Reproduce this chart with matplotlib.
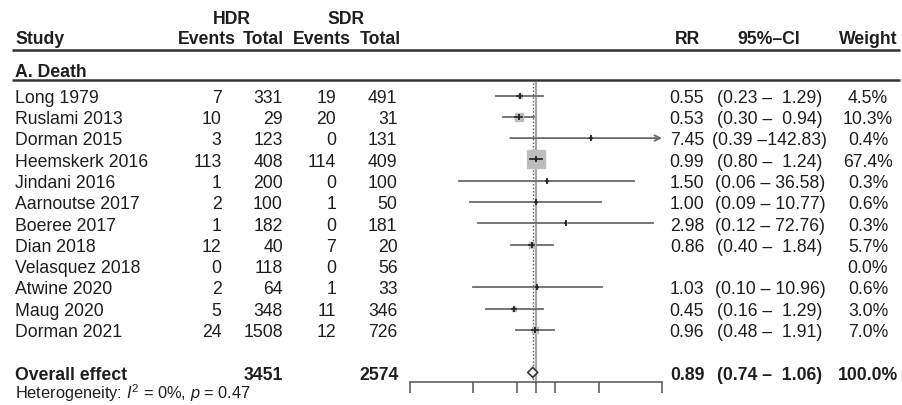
import numpy as np
import matplotlib
matplotlib.use('Agg')
import matplotlib.pyplot as plt
from matplotlib.ticker import NullLocator

plt.rcParams['font.family'] = ['Liberation Sans', 'DejaVu Sans']
plt.rcParams['mathtext.fontset'] = 'custom'
plt.rcParams['mathtext.rm'] = 'Liberation Sans'
plt.rcParams['mathtext.it'] = 'Liberation Sans:italic'

# study level data (A. Death)
studies = ['Long 1979', 'Ruslami 2013', 'Dorman 2015', 'Heemskerk 2016', 'Jindani 2016',
           'Aarnoutse 2017', 'Boeree 2017', 'Dian 2018', 'Velasquez 2018', 'Atwine 2020',
           'Maug 2020', 'Dorman 2021']
hdr_events = [7, 10, 3, 113, 1, 2, 1, 12, 0, 2, 5, 24]
hdr_total = [331, 29, 123, 408, 200, 100, 182, 40, 118, 64, 348, 1508]
sdr_events = [19, 20, 0, 114, 0, 1, 0, 7, 0, 1, 11, 12]
sdr_total = [491, 31, 131, 409, 100, 50, 181, 20, 56, 33, 346, 726]
rr = [0.55, 0.53, 7.45, 0.99, 1.50, 1.00, 2.98, 0.86, None, 1.03, 0.45, 0.96]
ci_lo = [0.23, 0.30, 0.39, 0.80, 0.06, 0.09, 0.12, 0.40, None, 0.10, 0.16, 0.48]
ci_hi = [1.29, 0.94, 142.83, 1.24, 36.58, 10.77, 72.76, 1.84, None, 10.96, 1.29, 1.91]
weight = [4.5, 10.3, 0.4, 67.4, 0.3, 0.6, 0.3, 5.7, 0.0, 0.6, 3.0, 7.0]

# pooled estimate
total_hdr = 3451
total_sdr = 2574
rr_all = 0.89
lo_all = 0.74
hi_all = 1.06
het_text = r"Heterogeneity: $I^2$ = 0%, $p$ = 0.47"

x_ticks = [0.01, 0.1, 0.5, 1, 2, 10, 100]

W, H = 902, 406
FS = 12.7
INK = '#1e1e1e'
CI_COL = '#6a6a6a'
SQ_COL = '#bdbdbd'

# layout in pixels
AX_L, AX_R = 410, 662
AXIS_Y = 383
ROW0, ROW_STEP = 96.5, 21.3
BASE_OFF = 6.3


def row_y(i):
    return ROW0 + ROW_STEP * i


fig = plt.figure(figsize=(W / 100, H / 100), dpi=100)
tx = fig.add_axes([0, 0, 1, 1])
tx.set_xlim(0, W)
tx.set_ylim(H, 0)
tx.axis('off')


def put(x, y, s, ha='left', bold=False, size=FS):
    tx.text(x, y, s, ha=ha, va='baseline', fontsize=size,
            fontweight='bold' if bold else 'normal', color=INK)


# header
put(231.5, 23.5, 'HDR', ha='center', bold=True)
put(345.5, 23.5, 'SDR', ha='center', bold=True)
put(15, 44.5, 'Study', bold=True)
put(236, 44.5, 'Events', ha='right', bold=True)
put(284, 44.5, 'Total', ha='right', bold=True)
put(351, 44.5, 'Events', ha='right', bold=True)
put(401, 44.5, 'Total', ha='right', bold=True)
put(687, 44.5, 'RR', ha='center', bold=True)
put(769, 44.5, '95%\u2013CI', ha='center', bold=True)
put(868, 44.5, 'Weight', ha='center', bold=True)

tx.plot([12, 900], [51, 51], color='#333333', lw=1.8, solid_capstyle='butt')
put(15, 77, 'A. Death', bold=True)
tx.plot([12, 900], [80.5, 80.5], color='#333333', lw=1.8, solid_capstyle='butt')


def ci_str(lo, hi):
    return '({:.2f} \u2013{:6.2f})'.format(lo, hi)


for i, name in enumerate(studies):
    yb = row_y(i) + BASE_OFF
    put(15, yb, name)
    put(221.5, yb, str(hdr_events[i]), ha='right')
    put(283, yb, str(hdr_total[i]), ha='right')
    put(336, yb, str(sdr_events[i]), ha='right')
    put(397.5, yb, str(sdr_total[i]), ha='right')
    if rr[i] is not None:
        put(687, yb, '{:.2f}'.format(rr[i]), ha='center')
        put(770, yb, ci_str(ci_lo[i], ci_hi[i]), ha='center')
    put(868, yb, '{:.1f}%'.format(weight[i]), ha='center')

y_all = row_y(len(studies) + 1)
yb = y_all + BASE_OFF
put(15, yb, 'Overall effect', bold=True)
put(283, yb, str(total_hdr), ha='right', bold=True)
put(399, yb, str(total_sdr), ha='right', bold=True)
put(687, yb, '{:.2f}'.format(rr_all), ha='center', bold=True)
put(770, yb, ci_str(lo_all, hi_all), ha='center', bold=True)
put(868, yb, '100.0%', ha='center', bold=True)
put(15, 399.5, het_text, size=11.8)

# forest panel
fx = fig.add_axes([AX_L / W, 0, (AX_R - AX_L) / W, 1])
fx.set_xscale('log')
fx.set_xlim(x_ticks[0], x_ticks[-1])
fx.set_ylim(H, 0)
fx.patch.set_visible(False)
for s in ['top', 'left', 'right']:
    fx.spines[s].set_visible(False)
fx.spines['bottom'].set_position(('data', AXIS_Y))
fx.spines['bottom'].set_color('#555555')
fx.spines['bottom'].set_linewidth(1.1)
fx.set_xticks(x_ticks)
fx.xaxis.set_minor_locator(NullLocator())
fx.tick_params(axis='x', direction='out', length=8, width=1.1, color='#555555',
               labelbottom=False)
fx.set_yticks([])

px_per_dec = (AX_R - AX_L) / np.log10(x_ticks[-1] / x_ticks[0])
top_y = 84
fx.plot([1, 1], [top_y, AXIS_Y], color='#a8a8a8', lw=1.6, zorder=1)
fx.plot([rr_all, rr_all], [top_y, AXIS_Y], color='#555555', lw=1.0,
        ls=(0, (1, 1.5)), zorder=1)

big_w = max(weight)
for i in range(len(studies)):
    if rr[i] is None:
        continue
    y = row_y(i)
    hi = min(ci_hi[i], x_ticks[-1])
    if ci_hi[i] > x_ticks[-1]:
        fx.annotate('', xy=(hi, y), xytext=(ci_lo[i], y),
                    arrowprops=dict(arrowstyle='->,head_length=0.4,head_width=0.2',
                                    color=CI_COL, lw=1.3, shrinkA=0, shrinkB=0))
    else:
        fx.plot([ci_lo[i], hi], [y, y], color=CI_COL, lw=1.3, zorder=2)
    side = 18 * np.sqrt(weight[i] / big_w)
    fx.plot(rr[i], y, marker='s', ms=side * 0.72, mfc=SQ_COL, mec=SQ_COL,
            ls='none', zorder=3)
    half = side / 2 / px_per_dec
    a = max(ci_lo[i], rr[i] * 10 ** -half)
    b = min(hi, rr[i] * 10 ** half)
    fx.plot([a, b], [y, y], color='#2a2a2a', lw=1.3, zorder=4)
    fx.plot(rr[i], y, marker='|', ms=4.5, mew=1.3, color='#222222', ls='none', zorder=5)

fx.fill([lo_all, rr_all, hi_all, rr_all], [y_all, y_all - 5, y_all, y_all + 5],
        facecolor='white', edgecolor='#333333', lw=1.2, zorder=5)

fig.savefig('out.png', dpi=100)
